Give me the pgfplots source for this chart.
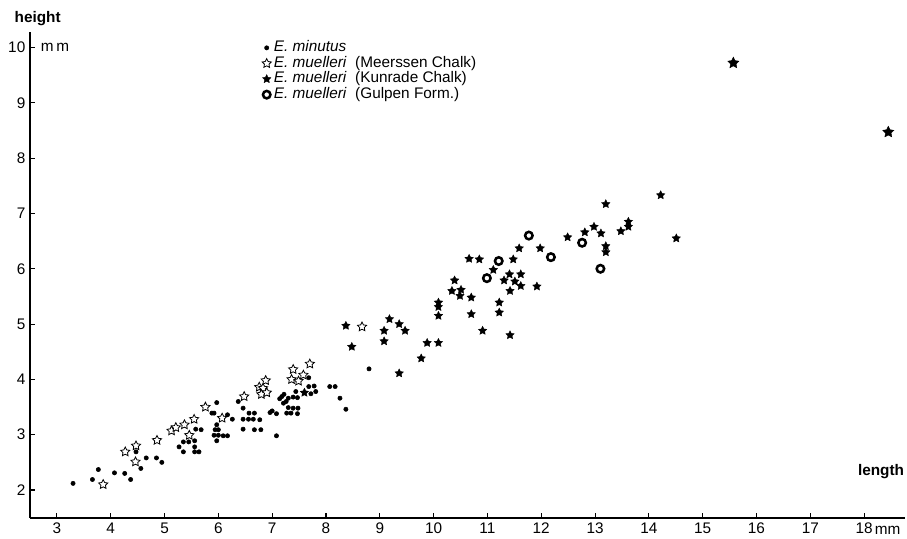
\documentclass[border=0pt]{standalone}
\usepackage{fontspec}
\setmainfont{Liberation Sans}
\usepackage{pgfplots}
\pgfplotsset{compat=1.18}

% filled / open five-pointed star
\pgfdeclareplotmark{fivestar}{%
  \pgfpathmoveto{\pgfpointpolar{90}{\pgfplotmarksize}}%
  \pgfpathlineto{\pgfpointpolar{126}{0.5\pgfplotmarksize}}%
  \pgfpathlineto{\pgfpointpolar{162}{\pgfplotmarksize}}%
  \pgfpathlineto{\pgfpointpolar{198}{0.5\pgfplotmarksize}}%
  \pgfpathlineto{\pgfpointpolar{234}{\pgfplotmarksize}}%
  \pgfpathlineto{\pgfpointpolar{270}{0.5\pgfplotmarksize}}%
  \pgfpathlineto{\pgfpointpolar{306}{\pgfplotmarksize}}%
  \pgfpathlineto{\pgfpointpolar{342}{0.5\pgfplotmarksize}}%
  \pgfpathlineto{\pgfpointpolar{18}{\pgfplotmarksize}}%
  \pgfpathlineto{\pgfpointpolar{54}{0.5\pgfplotmarksize}}%
  \pgfpathclose
  \pgfusepathqfillstroke
}

\begin{document}
\begin{tikzpicture}
\useasboundingbox (0,0) rectangle (680.25pt,404.25pt);
\begin{axis}[
  at={(22.5pt,15.75pt)}, anchor=south west,
  scale only axis, width=656.25pt, height=364.5pt,
  xmin=2.5, xmax=18.76, ymin=1.494, ymax=10.28,
  axis lines=left, axis line style={-, line width=1.3pt},
  tick align=inside, major tick length=4pt,
  tick style={line width=0.8pt, black},
  xtick={3,...,18}, ytick={2,...,10},
  /pgf/number format/assume math mode=true,
  tick label style={font=\fontsize{11.5}{13}\selectfont},
  clip=false,
  legend style={at={(0.265,0.984)}, anchor=north west, draw=none, fill=none,
    inner sep=0pt, font=\fontsize{11.5}{13}\selectfont,
    nodes={inner xsep=2pt, inner ysep=0.3pt, text height=8.5pt, text depth=2.6pt}},
  legend cell align=left,
  legend image code/.code={\draw[#1] plot coordinates {(0.1cm,0cm)};},
]
% E. minutus
\addplot[only marks, mark=*, mark size=1.6pt, black] coordinates {
(3.30,2.12)(3.66,2.19)(3.77,2.37)(4.07,2.31)(4.26,2.30)(4.37,2.19)(4.56,2.39)
(4.47,2.69)(4.66,2.58)(4.85,2.58)(4.95,2.50)(5.27,2.78)(5.35,2.87)(5.45,2.87)
(5.56,2.89)(5.35,2.69)(5.56,2.69)(5.64,2.69)(5.56,2.78)(5.58,3.10)(5.68,3.09)
(5.97,3.58)(5.88,3.39)(5.92,3.39)(6.17,3.36)(6.26,3.28)(5.97,3.18)(5.94,3.09)
(6.00,3.09)(5.92,2.99)(6.00,2.99)(6.09,2.98)(6.17,2.98)(5.97,2.89)(6.37,3.60)
(6.46,3.48)(6.57,3.39)(6.67,3.39)(6.46,3.28)(6.56,3.28)(6.65,3.28)(6.77,3.27)
(6.46,3.10)(6.67,3.09)(6.79,3.09)(6.96,3.40)(7.00,3.43)(7.08,3.38)(7.08,2.98)
(7.14,3.65)(7.18,3.69)(7.22,3.73)(7.21,3.57)(7.26,3.60)(7.30,3.66)(7.39,3.68)
(7.47,3.67)(7.30,3.49)(7.39,3.48)(7.48,3.48)(7.27,3.39)(7.35,3.39)(7.47,3.38)
(7.44,3.78)(7.68,3.87)(7.78,3.88)(7.72,3.74)(7.81,3.78)(7.68,4.03)(8.07,3.87)
(8.17,3.87)(8.26,3.66)(8.37,3.46)(8.80,4.19)
};
\addlegendentry{\textit{E. minutus}}
% E. muelleri, Meerssen Chalk
\addplot[only marks, mark=fivestar, mark size=3.6pt,
  mark options={fill=white, draw=black, line width=0.6pt}] coordinates {
(3.86,2.10)(4.27,2.69)(4.47,2.80)(4.46,2.51)(4.86,2.90)(5.13,3.07)(5.21,3.13)
(5.37,3.18)(5.46,2.99)(5.55,3.28)(5.76,3.50)(6.07,3.30)(6.48,3.69)(6.76,3.86)
(6.83,3.84)(6.80,3.73)(6.90,3.76)(6.88,3.98)(7.36,4.00)(7.39,4.18)(7.49,3.97)
(7.58,4.08)(7.70,4.28)(8.67,4.95)
};
\addlegendentry{\textit{E. muelleri}\ \ (Meerssen Chalk)}
% E. muelleri, Kunrade Chalk
\addplot[only marks, mark=fivestar, mark size=3.3pt,
  mark options={fill=black, draw=black, line width=0.3pt}] coordinates {
(7.60,3.76)(8.37,4.97)(8.48,4.59)(9.18,5.09)(9.08,4.88)(9.36,5.00)(9.47,4.88)
(9.08,4.69)(9.88,4.66)(10.09,4.66)(9.77,4.38)(9.36,4.11)(10.09,5.15)(10.09,5.31)
(10.09,5.39)(10.70,5.18)(11.22,5.21)(11.22,5.39)(10.91,4.88)(11.42,4.80)
(10.66,6.18)(10.85,6.17)(11.59,6.37)(11.48,6.17)(11.11,5.98)(10.39,5.79)
(10.34,5.60)(10.51,5.62)(10.49,5.51)(10.70,5.48)(11.31,5.79)(11.41,5.90)
(11.51,5.77)(11.62,5.90)(11.62,5.69)(11.42,5.60)(11.92,5.68)(11.98,6.37)
(12.49,6.57)(12.81,6.66)(12.98,6.76)(13.11,6.64)(13.20,7.17)(13.20,6.41)
(13.20,6.30)(13.48,6.68)(13.62,6.85)(13.62,6.76)(14.22,7.33)(14.51,6.55)
};
\addlegendentry{\textit{E. muelleri}\ \ (Kunrade Chalk)}
% E. muelleri, Gulpen Form.
\addplot[only marks, mark=*, mark size=2.8pt,
  mark options={fill=white, draw=black, line width=1.9pt}] coordinates {
(10.99,5.83)(11.21,6.14)(11.77,6.60)(12.18,6.21)(12.76,6.47)(13.10,6.00)
};
\addlegendentry{\textit{E. muelleri}\ \ (Gulpen Form.)}
% two large specimens (Kunrade)
\addplot[only marks, mark=fivestar, mark size=4.4pt, forget plot,
  mark options={fill=black, draw=black, line width=0.3pt}] coordinates {
(15.57,9.72)(18.45,8.47)
};
\end{axis}
\node[anchor=base west, font=\fontsize{11.5}{13}\selectfont\bfseries] at (7.5pt,387pt) {height};
\node[anchor=base west, font=\fontsize{11.5}{13}\selectfont\bfseries] at (640pt,47.25pt) {length};
\node[anchor=west, inner sep=0pt, font=\fontsize{11.5}{13}\selectfont] at (30.5pt,369pt) {m\,m};
\node[anchor=west, inner sep=0pt, font=\fontsize{11.5}{13}\selectfont] at (656pt,6.6pt) {mm};
\end{tikzpicture}
\end{document}
